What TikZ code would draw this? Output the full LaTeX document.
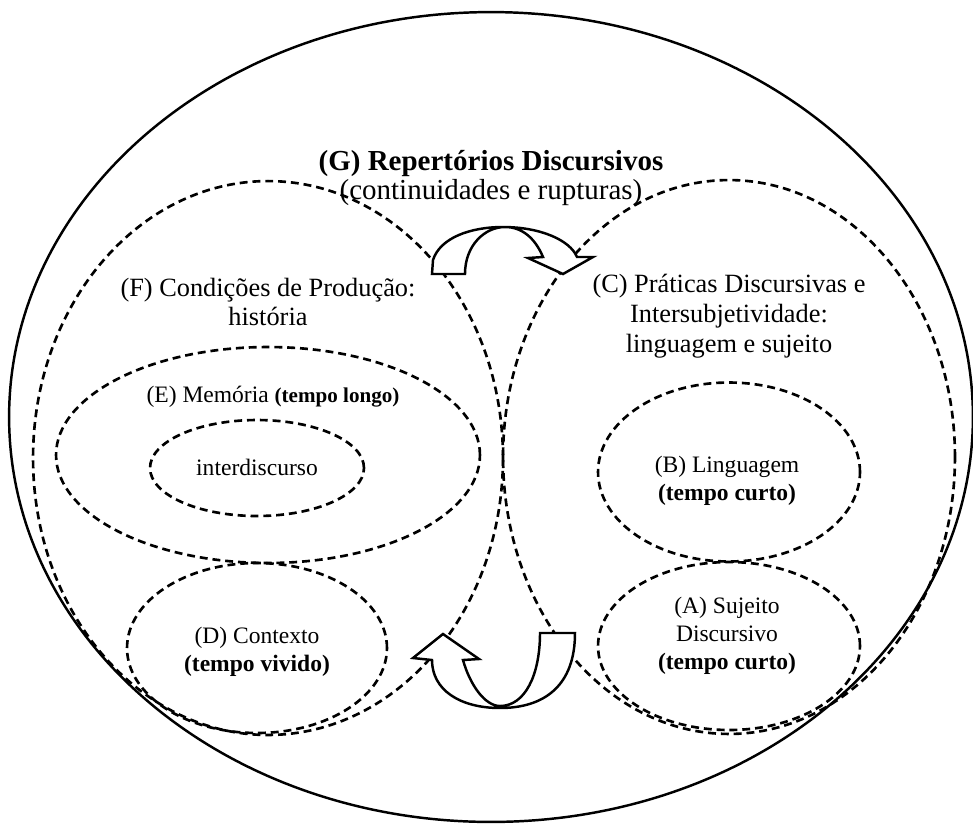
\documentclass[tikz,border=0pt]{standalone}
\usepackage{fontspec}
\setmainfont{Liberation Serif}
\usepackage{tikz}
\usetikzlibrary{shapes.geometric}
\tikzstyle{outer} = [ellipse, draw=black, line width=1.4pt, inner sep=0pt]
\tikzstyle{area} = [ellipse, draw=black, line width=1.5pt, dash pattern=on 4.5pt off 2.8pt, inner sep=0pt]
\tikzstyle{bigtxt} = [align=center, inner sep=0pt, font=\fontsize{15}{16.5}\selectfont]
\tikzstyle{smalltxt} = [align=center, inner sep=0pt, font=\fontsize{13.4}{16}\selectfont]
\tikzstyle{blockarrow} = [draw=black, line width=1.4pt, fill=white, line join=miter]

\begin{document}
\begin{tikzpicture}[x=0.02cm, y=-0.02cm]
\useasboundingbox (0,0) rectangle (973,823);

\node (G) [outer, minimum width=19.28cm, minimum height=16.2cm] at (491,417) {};
\node (F) [area, minimum width=9.4cm, minimum height=11.08cm] at (268,458) {};
\node (C) [area, minimum width=9.04cm, minimum height=11.08cm] at (729,457) {};
\node (E) [area, minimum width=8.48cm, minimum height=4.32cm] at (268,455) {};
\node (I) [area, minimum width=4.28cm, minimum height=1.92cm] at (257,468) {};
\node (D) [area, minimum width=5.2cm, minimum height=3.4cm] at (257,648) {};
\node (B) [area, minimum width=5.24cm, minimum height=3.58cm] at (729,472) {};
\node (A) [area, minimum width=5.24cm, minimum height=3.36cm] at (729,646) {};

\node (Gt) [bigtxt, font=\fontsize{16.5}{17}\selectfont] at (491,178) {\textbf{(G) Repertórios Discursivos}\\(continuidades e rupturas)};
\node (Ft) [bigtxt] at (268,302) {(F) Condições de Produção:\\história};
\node (Ct) [bigtxt, font=\fontsize{15}{17}\selectfont] at (729,316) {(C) Práticas Discursivas e\\Intersubjetividade:\\linguagem e sujeito};
\node (Et) [smalltxt] at (273,397) {(E) Memória {\fontsize{12}{14}\selectfont\bfseries(tempo longo)}};
\node (It) [smalltxt] at (257,467) {interdiscurso};
\node (Dt) [smalltxt] at (257,652) {(D) Contexto\\\textbf{(tempo vivido)}};
\node (Bt) [smalltxt] at (727,481) {(B) Linguagem\\\textbf{(tempo curto)}};
\node (At) [smalltxt] at (727,636) {(A) Sujeito\\Discursivo\\\textbf{(tempo curto)}};

\filldraw [blockarrow] (432,274) -- (433,260) .. controls (440,238) and (470,227) .. (503,227) .. controls (540,227) and (570,240) .. (577,257) -- (593,257) -- (563,274) -- (528,258) -- (543,257) .. controls (535,238) and (522,227) .. (505,227) .. controls (485,227) and (465,245) .. (465,274) -- cycle;

\filldraw [blockarrow] (540,633) -- (575,633) .. controls (575,685) and (545,708) .. (500,708) .. controls (460,708) and (432,690) .. (432,660) -- (413,658) -- (443,634) -- (479,659) -- (463,660) .. controls (470,685) and (485,706) .. (500,706) .. controls (525,706) and (540,675) .. (540,633) -- cycle;

\end{tikzpicture}
\end{document}
